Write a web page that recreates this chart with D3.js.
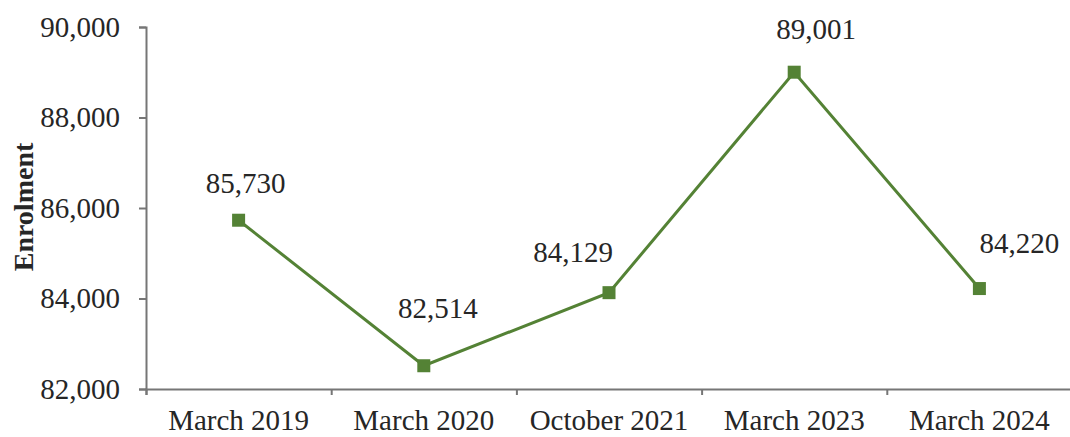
<!DOCTYPE html>
<html>
<head>
<meta charset="utf-8">
<script src="https://cdn.jsdelivr.net/npm/d3@7"></script>
<style>
  html, body { margin: 0; padding: 0; background: #fff; }
  svg { display: block; }
  text { font-family: "Liberation Serif", "Times New Roman", serif; fill: #262626; }
</style>
</head>
<body>
<svg id="chart" width="1070" height="437"></svg>
<script>
// Enrolment by survey period
const periods = ["March 2019", "March 2020", "October 2021", "March 2023", "March 2024"];
const enrolment = [85730, 82514, 84129, 89001, 84220];
const yTicks = [82000, 84000, 86000, 88000, 90000];

// Hand-placed label nudges (dx from point centre, dy to baseline)
const labelNudge = [[7, -27], [14, -48], [-36, -31], [22, -33], [40, -36]];

const svg = d3.select("#chart");
const plot = { left: 146, bottom: 389, top: 27, right: 1072 };
const green = "#548235";
const axisColor = "#767676";
const fmt = d3.format(",");

const x = d3.scaleBand().domain(periods).range([plot.left, plot.right]);
const y = d3.scaleLinear().domain([82000, 90000]).range([plot.bottom, plot.top]);

// Y axis
const yAxis = svg.append("g")
  .attr("transform", `translate(${plot.left},0)`)
  .call(d3.axisLeft(y).tickValues(yTicks).tickFormat(fmt).tickSize(7).tickPadding(19));
yAxis.selectAll("text").style("font-size", "29px").attr("fill", "#262626");

// X axis: tick marks at category boundaries, labels at centres
const bounds = d3.scaleLinear().domain([0, periods.length]).range([plot.left, plot.right]);
svg.append("g")
  .attr("transform", `translate(0,${plot.bottom})`)
  .call(d3.axisBottom(bounds).tickValues(d3.range(periods.length + 1)).tickFormat("").tickSize(6));

const xLabels = svg.append("g")
  .attr("transform", `translate(0,${plot.bottom})`)
  .call(d3.axisBottom(x).tickSize(0).tickPadding(20));
xLabels.select(".domain").remove();
xLabels.selectAll("text").style("font-size", "29px").attr("fill", "#262626");

svg.selectAll(".domain, .tick line")
  .attr("stroke", axisColor)
  .attr("stroke-width", 2);

// Axis title
svg.append("text")
  .attr("transform", "translate(33,207) rotate(-90)")
  .attr("text-anchor", "middle")
  .style("font-size", "28px")
  .style("font-weight", "bold")
  .text("Enrolment");

// Series line
const cx = (d, i) => x(periods[i]) + x.bandwidth() / 2;
const line = d3.line().x((d, i) => cx(d, i)).y(d => y(d));
svg.append("path")
  .datum(enrolment)
  .attr("d", line)
  .attr("fill", "none")
  .attr("stroke", green)
  .attr("stroke-width", 3);

// Square markers
const m = 13;
svg.selectAll("rect.marker")
  .data(enrolment)
  .join("rect")
  .attr("class", "marker")
  .attr("x", (d, i) => cx(d, i) - m / 2)
  .attr("y", d => y(d) - m / 2)
  .attr("width", m)
  .attr("height", m)
  .attr("fill", green);

// Value labels
svg.selectAll("text.value")
  .data(enrolment)
  .join("text")
  .attr("class", "value")
  .attr("x", (d, i) => cx(d, i) + labelNudge[i][0])
  .attr("y", (d, i) => y(d) + labelNudge[i][1])
  .attr("text-anchor", "middle")
  .style("font-size", "29px")
  .text(d => fmt(d));
</script>
</body>
</html>
